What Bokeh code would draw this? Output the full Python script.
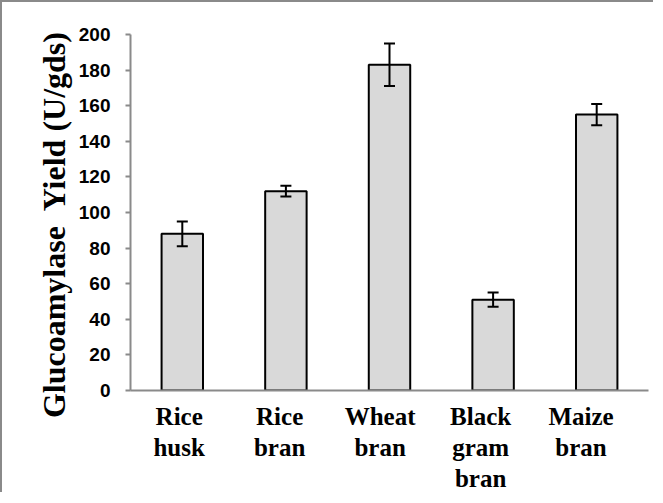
from bokeh.plotting import figure
from bokeh.models import (ColumnDataSource, Whisker, TeeHead, FixedTicker, Range1d,
                          CategoricalAxis, FactorRange)
from bokeh.embed import file_html
from bokeh.resources import INLINE

categories = ["Rice husk", "Rice bran", "Wheat bran", "Black gram bran", "Maize bran"]
label_lines = [["Rice", "husk"], ["Rice", "bran"], ["Wheat", "bran"], ["Black", "gram", "bran"], ["Maize", "bran"]]
yields = [88, 112, 183, 51, 155]
errors = [7, 3, 12, 4, 6]
y_ticks = [0, 20, 40, 60, 80, 100, 120, 140, 160, 180, 200]

SERIF = "'Times New Roman', 'Liberation Serif', serif"

src = ColumnDataSource(dict(
    cat=categories,
    val=yields,
    upper=[v + e for v, e in zip(yields, errors)],
    lower=[v - e for v, e in zip(yields, errors)],
))

p = figure(x_range=categories, y_range=Range1d(0, 200), width=653, height=492,
           output_backend="svg", toolbar_location=None, x_axis_location=None,
           min_border_left=128, min_border_right=7, min_border_top=32, min_border_bottom=100)
p.styles = {"border-left": "2px solid #8a8a8a", "border-top": "2px solid #8a8a8a"}

p.vbar(x="cat", top="val", width=0.4, source=src, fill_color="#d9d9d9",
       line_color="black", line_width=2)
w = Whisker(base="cat", upper="upper", lower="lower", source=src, line_color="black", line_width=2,
            upper_head=TeeHead(size=11, line_color="black", line_width=2),
            lower_head=TeeHead(size=11, line_color="black", line_width=2), level="overlay")
p.add_layout(w)

p.xgrid.visible = False
p.ygrid.visible = False
p.outline_line_color = None

p.yaxis.ticker = FixedTicker(ticks=y_ticks)
p.yaxis.axis_line_color = "#8a8a8a"
p.yaxis.axis_line_width = 2
p.yaxis.major_tick_line_color = "#8a8a8a"
p.yaxis.major_tick_line_width = 2
p.yaxis.major_tick_out = 5
p.yaxis.major_tick_in = 0
p.yaxis.minor_tick_line_color = None
p.yaxis.major_label_text_font = "Liberation Sans"
p.yaxis.major_label_text_font_style = "bold"
p.yaxis.major_label_text_font_size = "19px"
p.yaxis.major_label_text_color = "black"
p.yaxis.major_label_standoff = 15
p.yaxis.axis_label = "Glucoamylase\u00a0 Yield (U/gds)" + "\u00a0" * 3
p.yaxis.axis_label_text_font = "Liberation Serif"
p.yaxis.axis_label_text_font_style = "bold"
p.yaxis.axis_label_text_font_size = "32px"
p.yaxis.axis_label_text_color = "black"
p.yaxis.axis_label_standoff = 4

# each text line of the category labels gets its own categorical axis on its
# own factor range (same number of factors, so same positions as the bars)
standoffs = [6, -5, -5]
for i in range(3):
    factors = []
    for j, lines in enumerate(label_lines):
        t = lines[i] if i < len(lines) else ""
        factors.append(t + "\u00a0" * (j + 1) if t else "\u00a0" * (j + 1))
    name = "line%d" % i
    p.extra_x_ranges[name] = FactorRange(factors=factors)
    ax = CategoricalAxis(x_range_name=name)
    if i == 0:
        ax.axis_line_color = "#8a8a8a"
        ax.axis_line_width = 2
    else:
        ax.axis_line_color = None
    ax.major_tick_line_color = None
    ax.minor_tick_line_color = None
    ax.major_label_text_font = SERIF
    ax.major_label_text_font_style = "bold"
    ax.major_label_text_font_size = "25px"
    ax.major_label_text_color = "black"
    ax.group_text_font = SERIF
    ax.subgroup_text_font = SERIF
    ax.major_label_standoff = standoffs[i]
    p.add_layout(ax, "below")

open("out.html", "w").write(file_html(p, INLINE))
